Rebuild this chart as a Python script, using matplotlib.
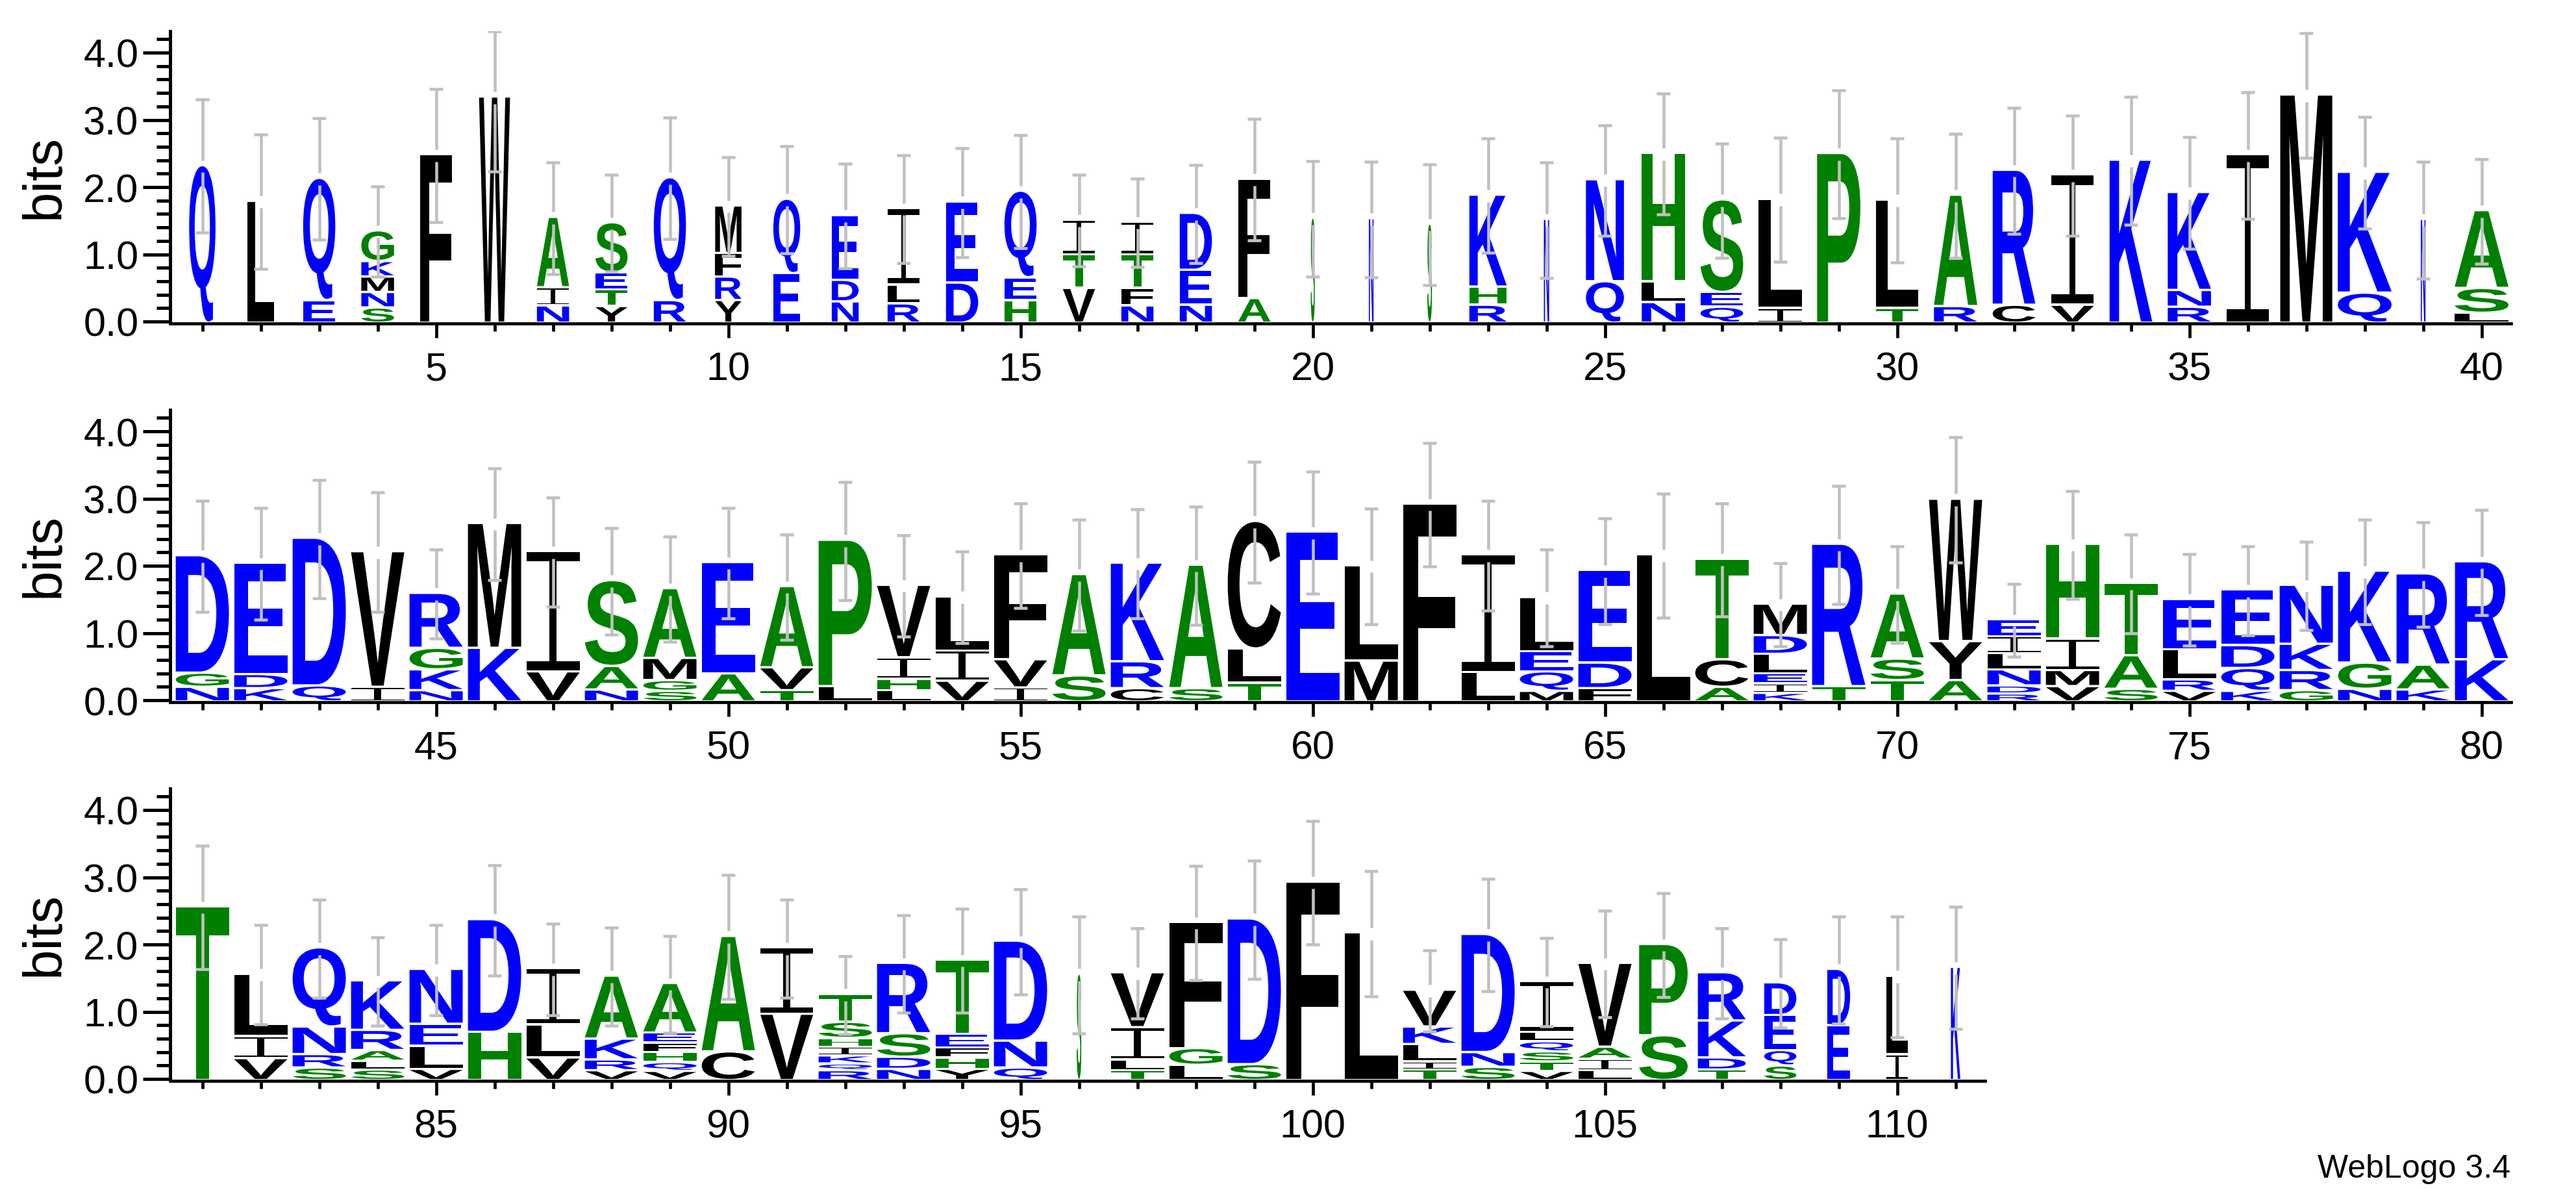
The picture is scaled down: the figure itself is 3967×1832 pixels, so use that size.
import matplotlib
matplotlib.use('Agg')
import matplotlib.pyplot as plt
from matplotlib.textpath import TextPath
from matplotlib.font_manager import FontProperties
from matplotlib.patches import PathPatch
from matplotlib.path import Path
from matplotlib.transforms import Affine2D
from matplotlib.ticker import FixedLocator

# letters of each stack, bottom to top (positions 1..111)
stacks = [
    'Q', 'L', 'EQ', 'SNMKG', 'F', 'W', 'NIA', 'YTES', 'RQ', 'YRFM',
    'EQ', 'NDE', 'RLI', 'DE', 'HEQ', 'VTI', 'NFTI', 'NED', 'AF', 'S',
    'N', 'S', 'RHK', 'N', 'QN', 'NLH', 'QES', 'IL', 'P', 'TL',
    'RA', 'CR', 'VI', 'K', 'RNK', 'I', 'M', 'QK', 'N', 'LSA',
    'NGD', 'KDE', 'QD', 'IV', 'NKGR', 'KM', 'VI', 'NAS', 'SGMA', 'AE',
    'TVA', 'LP', 'LHIV', 'VIL', 'IVF', 'SA', 'CRK', 'SA', 'TLC', 'E',
    'ML', 'F', 'LI', 'MQEL', 'FDE', 'L', 'ACT', 'KIELDM', 'TR', 'TSA',
    'AYW', 'RDNLIE', 'VMIH', 'SAT', 'VRLE', 'KQDE', 'GRKN', 'NGK', 'KAR', 'KR',
    'T', 'VIL', 'SRNQ', 'SLARK', 'VLEN', 'HD', 'VLI', 'VRKA', 'VQHFEA', 'CA',
    'VI', 'RQKIHST', 'NDSR', 'YHFET', 'QND', 'S', 'TLIV', 'LGF', 'SD', 'F',
    'L', 'TILKV', 'SND', 'VTSQLI', 'LIAV', 'SP', 'TDKR', 'SQED', 'ED', 'IL',
    'K',
]

# height in bits of each letter, same order
heights = [
    [2.31], [1.78], [0.32, 1.80], [0.21, 0.23, 0.23, 0.23, 0.44], [2.47],
    [3.33], [0.24, 0.27, 1.03], [0.23, 0.25, 0.25, 0.73], [0.32, 1.81], [0.32, 0.35, 0.35, 0.69],
    [0.72, 1.09], [0.30, 0.32, 0.95], [0.27, 0.28, 1.12], [0.58, 1.19], [0.32, 0.34, 1.27],
    [0.50, 0.50, 0.50], [0.24, 0.26, 0.50, 0.47], [0.25, 0.52, 0.83], [0.35, 1.76], [1.53],
    [1.52], [1.44], [0.25, 0.27, 1.35], [1.51], [0.60, 1.50],
    [0.29, 0.31, 1.89], [0.22, 0.22, 1.36], [0.20, 1.61], [2.49], [0.20, 1.60],
    [0.23, 1.64], [0.25, 1.99], [0.25, 1.92], [2.39], [0.22, 0.25, 1.44],
    [2.47], [3.36], [0.43, 1.78], [1.51], [0.13, 0.37, 1.14],
    [0.20, 0.21, 1.73], [0.18, 0.21, 1.64], [0.22, 2.18], [0.20, 2.00], [0.15, 0.31, 0.32, 0.80],
    [0.78, 1.84], [0.43, 1.77], [0.16, 0.35, 1.26], [0.14, 0.16, 0.33, 1.02], [0.40, 1.64],
    [0.15, 0.34, 1.19], [0.21, 2.16], [0.15, 0.17, 0.32, 1.06], [0.29, 0.45, 0.79], [0.19, 0.42, 1.54],
    [0.37, 1.49], [0.18, 0.40, 1.45], [0.18, 1.82], [0.26, 0.51, 1.88], [2.49],
    [0.59, 1.40], [2.91], [0.42, 1.73], [0.14, 0.29, 0.30, 0.79], [0.18, 0.38, 1.36],
    [2.15], [0.20, 0.41, 1.48], [0.11, 0.14, 0.15, 0.29, 0.28, 0.45], [0.21, 2.10], [0.30, 0.32, 0.95],
    [0.30, 0.58, 2.10], [0.10, 0.12, 0.24, 0.24, 0.25, 0.24], [0.21, 0.24, 0.47, 1.39], [0.17, 0.50, 1.06], [0.14, 0.17, 0.45, 0.73],
    [0.14, 0.34, 0.34, 0.81], [0.15, 0.30, 0.39, 0.86], [0.17, 0.39, 1.35], [0.16, 0.37, 1.34], [0.61, 1.44],
    [2.55], [0.31, 0.33, 0.91], [0.17, 0.20, 0.41, 1.16], [0.14, 0.13, 0.16, 0.30, 0.72], [0.15, 0.34, 0.33, 0.80],
    [0.70, 1.66], [0.32, 0.49, 0.82], [0.13, 0.16, 0.31, 0.92], [0.12, 0.13, 0.15, 0.14, 0.15, 0.72], [0.41, 1.70],
    [0.97, 0.97], [0.13, 0.10, 0.12, 0.13, 0.13, 0.24, 0.40], [0.15, 0.18, 0.35, 1.03], [0.15, 0.17, 0.15, 0.20, 1.09], [0.17, 0.40, 1.47],
    [1.55], [0.13, 0.16, 0.48, 0.80], [0.21, 0.25, 1.86], [0.22, 2.15], [2.92],
    [2.16], [0.14, 0.12, 0.26, 0.26, 0.53], [0.18, 0.22, 1.74], [0.12, 0.14, 0.15, 0.15, 0.14, 0.74], [0.13, 0.17, 0.18, 1.23],
    [0.65, 1.34], [0.14, 0.18, 0.55, 0.70], [0.20, 0.23, 0.52, 0.47], [0.80, 0.82], [0.37, 1.15],
    [1.65],
]

# error bar half-length (bits)
errors = [
    0.99, 1.00, 0.90, 0.67, 0.99, 1.10, 0.83, 0.72, 0.90, 0.73,
    0.80, 0.78, 0.80, 0.81, 0.84, 0.68, 0.66, 0.73, 0.90, 0.86,
    0.86, 0.90, 0.85, 0.86, 0.82, 0.90, 0.85, 0.92, 0.95, 0.92,
    0.92, 0.94, 0.89, 0.95, 0.83, 0.94, 0.93, 0.83, 0.87, 0.78,
    0.83, 0.83, 0.88, 0.89, 0.66, 0.83, 0.81, 0.79, 0.78, 0.82,
    0.78, 0.88, 0.75, 0.68, 0.78, 0.83, 0.81, 0.88, 0.90, 0.91,
    0.86, 0.92, 0.82, 0.72, 0.79, 0.92, 0.84, 0.62, 0.88, 0.72,
    0.93, 0.54, 0.80, 0.73, 0.68, 0.66, 0.66, 0.78, 0.78, 0.78,
    0.92, 0.74, 0.73, 0.66, 0.67, 0.82, 0.68, 0.73, 0.72, 0.92,
    0.73, 0.58, 0.72, 0.77, 0.78, 0.87, 0.67, 0.85, 0.88, 0.92,
    0.93, 0.60, 0.84, 0.66, 0.79, 0.77, 0.67, 0.66, 0.80, 0.90,
    0.91,
]

# stack width as a fraction of one position
widths = [
    0.45, 0.45, 0.55, 0.56, 0.55, 0.53, 0.55, 0.55, 0.55, 0.45,
    0.46, 0.46, 0.55, 0.55, 0.55, 0.55, 0.55, 0.55, 0.55, 0.07,
    0.08, 0.08, 0.64, 0.09, 0.65, 0.74, 0.73, 0.74, 0.74, 0.73,
    0.74, 0.73, 0.73, 0.73, 0.74, 0.73, 0.89, 0.92, 0.08, 0.92,
] + [0.91] * 40 + [
    0.91, 0.91, 0.91, 0.91, 0.91, 0.91, 0.91, 0.91, 0.91, 0.91,
    0.90, 0.91, 0.91, 0.91, 0.91, 0.08, 0.91, 0.91, 0.91, 0.91,
    0.91, 0.91, 0.91, 0.91, 0.91, 0.83, 0.82, 0.55, 0.39, 0.37,
    0.16,
]

W, H = 3967, 1833
BITS = 4.32
PX_BIT = 103.5
LEFT_PX = 262.0
POS1_PX = 311.6
STEP = 90.0
baselines_px = [496, 1079, 1662]

BLUE = '#0000ff'
GREEN = '#008000'
BLACK = '#000000'
GREY = '#c0c0c0'


def letter_color(ch):
    if ch in 'RKDENQ':
        return BLUE
    if ch in 'SGHTAP':
        return GREEN
    return BLACK


fp = FontProperties(family='Liberation Sans', weight='bold')
glyphs = {}


def glyph(ch):
    # unit-box outline of a letter
    if ch in glyphs:
        return glyphs[ch]
    if ch == 'I':
        t, s = 0.075, 0.065
        verts = [(0, 0), (1, 0), (1, t), (0.5 + s, t), (0.5 + s, 1 - t), (1, 1 - t),
                 (1, 1), (0, 1), (0, 1 - t), (0.5 - s, 1 - t), (0.5 - s, t), (0, t), (0, 0)]
        p = Path(verts, closed=True)
    else:
        tp = TextPath((0, 0), ch, size=1, prop=fp)
        bb = tp.get_extents()
        p = Affine2D().translate(-bb.x0, -bb.y0).scale(1 / bb.width, 1 / bb.height).transform_path(tp)
    glyphs[ch] = p
    return p


fig = plt.figure(figsize=(W / 100, H / 100), dpi=100)
plt.rcParams['font.family'] = 'Liberation Sans'

gap = 0.035
for r in range(3):
    first = 40 * r + 1
    last = min(40 * r + 40, len(stacks))
    x0 = first - 0.5 - (POS1_PX - STEP / 2 - LEFT_PX) / STEP
    x1 = first + 39.5
    ax_w = (x1 - x0) * STEP
    bottom = (H - baselines_px[r]) / H
    ax = fig.add_axes([LEFT_PX / W, bottom, ax_w / W, BITS * PX_BIT / H])
    ax.set_xlim(x0, x1)
    ax.set_ylim(0, BITS)
    ax.patch.set_alpha(0)

    for p in range(first, last + 1):
        letters = stacks[p - 1]
        hs = heights[p - 1]
        w = widths[p - 1]
        y = 0.0
        n = len(letters)
        for k, (ch, h) in enumerate(zip(letters, hs)):
            lo = y + (gap / 2 if k > 0 else 0)
            hi = y + h - (gap / 2 if k < n - 1 else 0)
            tr = Affine2D().scale(w, hi - lo).translate(p - w / 2, lo)
            ax.add_patch(PathPatch(tr.transform_path(glyph(ch)), fc=letter_color(ch),
                                   ec='none', zorder=2))
            y += h
        top = y
        e = errors[p - 1]
        lo_e = max(top - e, 0)
        hi_e = min(top + e, BITS)
        g = 0.09
        kw = dict(color=GREY, lw=3.3, solid_capstyle='butt', zorder=3)
        ax.plot([p, p], [lo_e, top - g], **kw)
        ax.plot([p, p], [top + g, hi_e], **kw)
        cw = 0.235
        ax.plot([p - cw / 2, p + cw / 2], [lo_e, lo_e], **kw)
        ax.plot([p - cw / 2, p + cw / 2], [hi_e, hi_e], **kw)

    for s in ['top', 'right']:
        ax.spines[s].set_visible(False)
    ax.spines['left'].set_linewidth(3.6)
    ax.spines['bottom'].set_linewidth(3.4)
    ax.spines['bottom'].set_position(('outward', 1.9))
    ax.spines['bottom'].set_bounds(x0, last + 0.5)

    ax.yaxis.set_major_locator(FixedLocator([0, 1, 2, 3, 4]))
    ax.yaxis.set_minor_locator(FixedLocator([0.2 * k for k in range(22) if k % 5]))
    ax.set_yticklabels(['0.0', '1.0', '2.0', '3.0', '4.0'])
    ax.tick_params(axis='y', which='major', length=30, width=3.6, pad=5, labelsize=44)
    ax.tick_params(axis='y', which='minor', length=15, width=3.6)

    majors = [p for p in range(first, last + 1) if p % 5 == 0]
    ax.xaxis.set_major_locator(FixedLocator(majors))
    ax.xaxis.set_minor_locator(FixedLocator([p for p in range(first, last + 1) if p % 5]))
    ax.set_xticklabels([str(p) for p in majors])
    ax.tick_params(axis='x', which='major', length=16, width=3.4, pad=15, labelsize=44)
    ax.tick_params(axis='x', which='minor', length=8.6, width=3.4)

    fig.text(69 / W, bottom + BITS * PX_BIT / H / 2, 'bits', rotation=90,
             ha='center', va='center', fontsize=60)

fig.text(3866 / W, 0.018, 'WebLogo 3.4', ha='right', va='center', fontsize=36)

fig.savefig('out.png', dpi=100, facecolor='white')
